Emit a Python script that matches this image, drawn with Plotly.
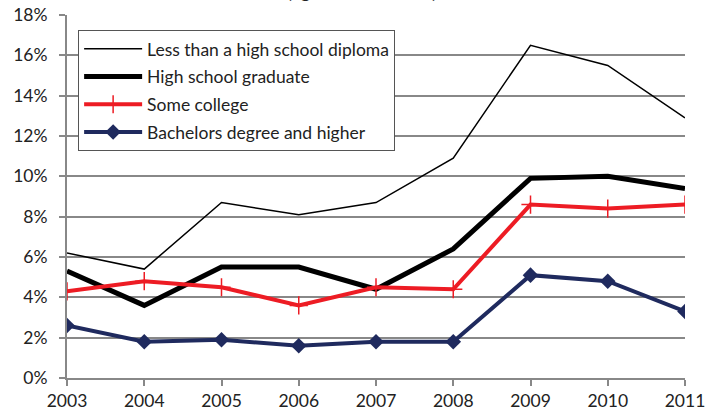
import plotly.graph_objects as go

years = [2003, 2004, 2005, 2006, 2007, 2008, 2009, 2010, 2011]
less_hs = [6.2, 5.4, 8.7, 8.1, 8.7, 10.9, 16.5, 15.5, 12.9]
hs_grad = [5.3, 3.6, 5.5, 5.5, 4.4, 6.4, 9.9, 10.0, 9.4]
some_college = [4.3, 4.8, 4.5, 3.6, 4.5, 4.4, 8.6, 8.4, 8.6]
bachelors = [2.6, 1.8, 1.9, 1.6, 1.8, 1.8, 5.1, 4.8, 3.3]
y_ticks = [0, 2, 4, 6, 8, 10, 12, 14, 16, 18]
y_labels = [f"{v}%" for v in y_ticks]

fig = go.Figure()
fig.add_trace(go.Scatter(x=years, y=less_hs, mode="lines", name="Less than a high school diploma",
                         line=dict(color="black", width=1.5), legendgroup="a"))
fig.add_trace(go.Scatter(x=years, y=hs_grad, mode="lines", name="High school graduate",
                         line=dict(color="black", width=5), legendgroup="b"))
fig.add_trace(go.Scatter(x=years, y=some_college, mode="lines+markers", name="Some college",
                         line=dict(color="#ED1C24", width=4), legendgroup="c",
                         marker=dict(symbol="cross-thin", size=13, color="#ED1C24",
                                     line=dict(color="#ED1C24", width=1.5))))
fig.add_trace(go.Scatter(x=years, y=bachelors, mode="lines+markers", name="Bachelors degree and higher",
                         line=dict(color="#1F2A5E", width=4), legendgroup="d",
                         marker=dict(symbol="diamond", size=12, color="#1F2A5E")))

fig.update_layout(
    width=715, height=415,
    margin=dict(l=67, r=30, t=15, b=37),
    paper_bgcolor="white", plot_bgcolor="white",
    font=dict(family="Lato, Open Sans, sans-serif", size=17, color="#222"),
    showlegend=True,
    legend=dict(x=0.018, y=0.959, xanchor="left", yanchor="top",
                bordercolor="#555", borderwidth=1, bgcolor="white",
                font=dict(size=17.5, color="#222"), tracegroupgap=2,
                itemwidth=58),
    annotations=[dict(text="<b>(ages 25 and older)</b>", x=0.477, y=1.030, xref="paper", yref="paper",
                      xanchor="center", yanchor="bottom", showarrow=False,
                      font=dict(size=18, color="#222"))],
)
fig.update_xaxes(range=[2003, 2011], tickvals=years, ticktext=[str(y) for y in years],
                 showgrid=False, showline=True, linecolor="#888", linewidth=2,
                 ticks="outside", ticklen=6, tickcolor="#888", tickwidth=2,
                 tickfont=dict(size=17.5), zeroline=False, automargin=False)
fig.update_yaxes(range=[0, 18], tickvals=y_ticks, ticktext=y_labels,
                 showgrid=True, gridcolor="#888", gridwidth=2,
                 showline=True, linecolor="#888", linewidth=2,
                 ticks="outside", ticklen=6, tickcolor="#888", tickwidth=2,
                 ticklabelstandoff=8,
                 tickfont=dict(size=17.5), zeroline=False, automargin=False)

fig.write_html("out.html", config={"displayModeBar": False},
               post_script="document.body.style.margin='0';")
